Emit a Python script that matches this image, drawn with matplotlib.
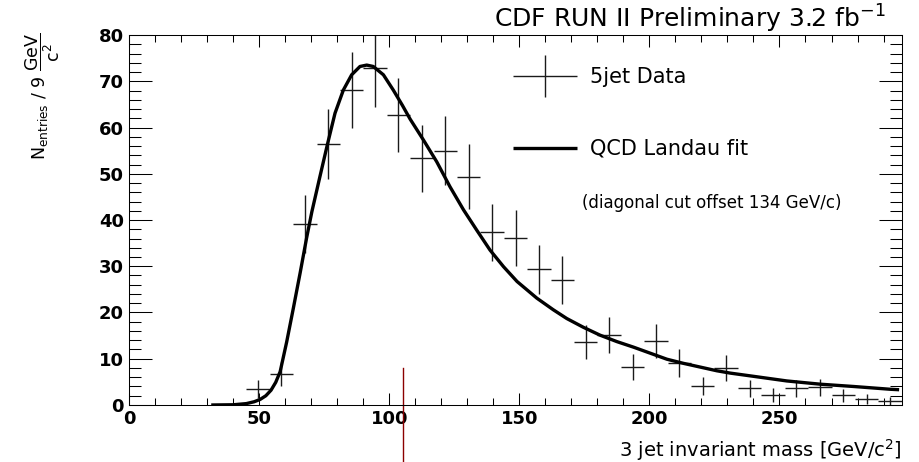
import numpy as np
import matplotlib
matplotlib.use('Agg')
from matplotlib import pyplot as plt
from matplotlib.ticker import MultipleLocator
from matplotlib.legend_handler import HandlerErrorbar
from matplotlib.container import ErrorbarContainer

plt.rcParams['font.family'] = ['DejaVu Sans']
plt.rcParams['mathtext.fontset'] = 'dejavusans'
plt.rcParams['mathtext.default'] = 'regular'

# 5jet data, 9 GeV bins (bin centres)
bin_centres = [49.5, 58.5, 67.5, 76.5, 85.5, 94.5, 103.5, 112.5, 121.5, 130.5,
               139.5, 148.5, 157.5, 166.5, 175.5, 184.5, 193.5, 202.5, 211.5, 220.5,
               229.5, 238.5, 247.5, 256.5, 265.5, 274.5, 283.5, 292.5]
entries = [3.5, 6.6, 39.2, 56.4, 68.1, 72.9, 62.7, 53.3, 55.0, 49.4,
           37.3, 36.1, 29.3, 27.0, 13.6, 15.1, 8.2, 13.9, 9.1, 4.1,
           8.0, 3.6, 2.2, 3.6, 3.8, 2.1, 1.3, 0.8]
entries_err = [1.9, 2.6, 6.3, 7.5, 8.3, 8.5, 7.9, 7.3, 7.4, 7.0,
               6.1, 6.0, 5.4, 5.2, 3.7, 3.9, 2.9, 3.7, 3.0, 2.0,
               2.8, 1.9, 1.5, 1.9, 1.9, 1.4, 1.1, 0.9]
bin_half = 4.5

# QCD Landau fit curve
fit_x = [31.5, 40, 45, 48, 50.3, 52.5, 54.5, 56.3, 58, 60.5, 63.1, 65.7, 68.2, 70.2,
         73.3, 76.2, 79.1, 82.3, 85.5, 88.7, 91.3, 93.8, 97.7, 101.5, 105, 108,
         113.1, 118.2, 123.3, 128.5, 133.6, 138.7, 143.9, 149.1, 156.7, 163, 168.2,
         174.6, 181, 187.5, 193.9, 200.3, 206.7, 213.1, 219.5, 225.9, 231, 240,
         252.8, 265.6, 278.5, 292.6, 296]
fit_y = [0.0, 0.05, 0.3, 0.7, 1.2, 2.0, 3.2, 4.9, 7.2, 13.6, 21.0, 28.6, 36.2, 41.8,
         49.4, 56.4, 63.1, 68.1, 71.4, 73.2, 73.5, 73.2, 71.4, 68.1, 64.8, 61.8,
         57.3, 52.6, 47.2, 42.2, 37.8, 33.5, 29.9, 26.7, 23.1, 20.6, 18.7,
         16.8, 15.1, 13.7, 12.5, 11.2, 9.9, 9.0, 8.2, 7.4, 6.9, 6.2,
         5.2, 4.5, 4.0, 3.4, 3.3]

# stray vertical line visible in the original image
stray_x = [105.4, 105.4]
stray_y = [7.9, -12.3]

fig = plt.figure(figsize=(9.19, 4.62), dpi=100)
ax = fig.add_axes([0.1407, 0.1234, 0.8405, 0.8008])

eb = ax.errorbar(bin_centres, entries, xerr=bin_half, yerr=entries_err, fmt='none',
                 ecolor='#1a1a1a', elinewidth=1.0, capsize=0, label='5jet Data')
fit_line, = ax.plot(fit_x, fit_y, color='black', lw=2.4, label='QCD Landau fit',
                    solid_capstyle='butt', solid_joinstyle='round', zorder=3)
ax.plot(stray_x, stray_y, color='#8b0000', lw=1.0, clip_on=False)

ax.set_xlim(0, 297)
ax.set_ylim(0, 80)
ax.xaxis.set_major_locator(MultipleLocator(50))
ax.xaxis.set_minor_locator(MultipleLocator(10))
ax.yaxis.set_major_locator(MultipleLocator(10))
ax.yaxis.set_minor_locator(MultipleLocator(2))
ax.tick_params(axis='both', which='both', direction='in', top=True, right=True,
               width=0.75, color='black')
ax.tick_params(axis='x', which='major', length=8.6, pad=3.5)
ax.tick_params(axis='x', which='minor', length=5)
ax.tick_params(axis='y', which='major', length=16.5, pad=4)
ax.tick_params(axis='y', which='minor', length=8.3)
for lab in ax.get_xticklabels() + ax.get_yticklabels():
    lab.set_fontweight('bold')
    lab.set_fontsize(13)
for sp in ax.spines.values():
    sp.set_linewidth(0.75)

ax.set_xlabel('3 jet invariant mass [GeV/c$^{2}$]', fontsize=14, loc='right')
ax.xaxis.label.set_verticalalignment('baseline')
ax.xaxis.set_label_coords(1.0, -0.1405)
fig.text(43 / 919, 1 - 33 / 462, r'$N_{entries}$ / 9 $\dfrac{GeV}{c^{2}}$',
         rotation=90, ha='center', va='top', fontsize=12.5)
fig.text(886 / 919, 1 - 28 / 462, 'CDF RUN II Preliminary 3.2 fb$^{-1}$',
         ha='right', va='baseline', fontsize=18)

ax.legend(handles=[eb, fit_line], loc='upper left', bbox_to_anchor=(0.4964, 0.913),
          frameon=False, fontsize=15, borderpad=0, borderaxespad=0,
          handlelength=3.07, handletextpad=0.63, labelspacing=2.48,
          handler_map={ErrorbarContainer: HandlerErrorbar(xerr_size=1.53, yerr_size=1.0)})
ax.text(0.754, 0.545, '(diagonal cut offset 134 GeV/c)', transform=ax.transAxes,
        ha='center', va='center', fontsize=12)

fig.savefig('out.png', dpi=100)
